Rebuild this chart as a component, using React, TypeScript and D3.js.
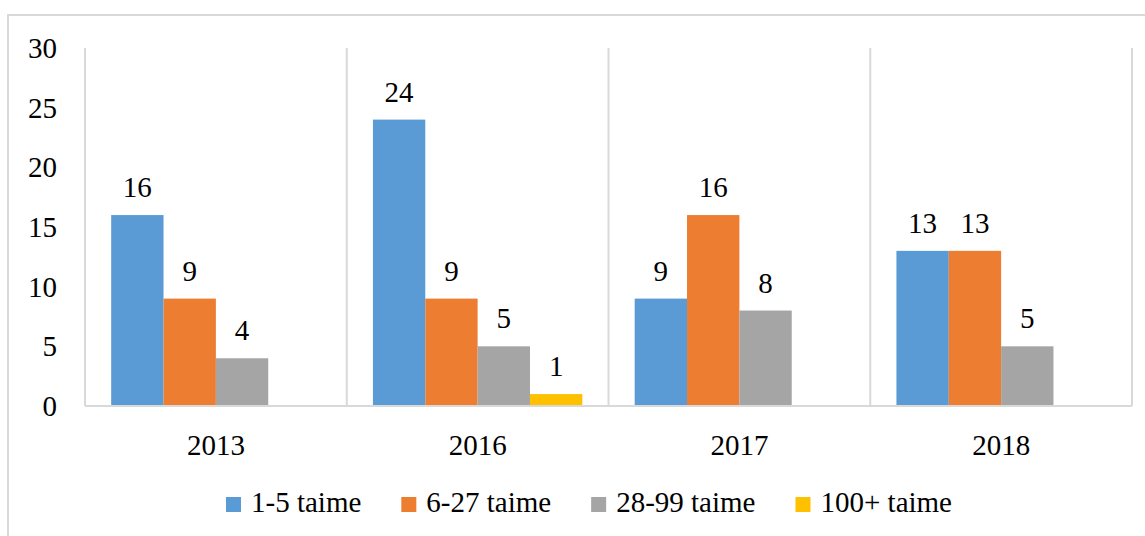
import { useEffect, useRef } from "react";
import * as d3 from "d3";

const years = ["2013", "2016", "2017", "2018"];
const seriesNames = ["1-5 taime", "6-27 taime", "28-99 taime", "100+ taime"];
const colors = ["#5B9BD5", "#ED7D31", "#A5A5A5", "#FFC000"];
// values per series, in the order of years (null = no bar)
const s1 = [16, 24, 9, 13];
const s2 = [9, 9, 16, 13];
const s3 = [4, 5, 8, 5];
const s4 = [null, 1, null, null];
const yTicks = [0, 5, 10, 15, 20, 25, 30];

const W = 1145;
const H = 536;
const FONT = '"Liberation Serif", Tinos, "Times New Roman", "DejaVu Serif", serif';
const FS = "29px";

export default function App() {
  const svgRef = useRef<SVGSVGElement>(null);

  useEffect(() => {
    const svg = d3.select(svgRef.current);
    svg.selectAll("*").remove();

    const plot = { left: 85, right: 1132, top: 48, bottom: 406 };
    const allSeries = [s1, s2, s3, s4];

    // outer frame
    svg.append("rect")
      .attr("x", 8).attr("y", 15)
      .attr("width", W).attr("height", H)
      .attr("fill", "#fff")
      .attr("stroke", "#D9D9D9").attr("stroke-width", 2);

    const x0 = d3.scaleBand().domain(years).range([plot.left, plot.right]).padding(0);
    const x1 = d3.scaleBand()
      .domain(seriesNames)
      .range([x0.bandwidth() * 0.1, x0.bandwidth() * 0.9])
      .padding(0);
    const y = d3.scaleLinear().domain([0, 30]).range([plot.bottom, plot.top]);

    // category separators
    const seps = years.map((yr) => x0(yr)!).concat([plot.right]);
    svg.append("g").selectAll("line").data(seps).join("line")
      .attr("x1", (d) => d).attr("x2", (d) => d)
      .attr("y1", plot.top).attr("y2", plot.bottom)
      .attr("stroke", "#D9D9D9").attr("stroke-width", 2);

    // bars + value labels
    const groups = svg.append("g").selectAll("g").data(years).join("g")
      .attr("transform", (d) => `translate(${x0(d)},0)`);

    groups.each(function (yr, i) {
      const g = d3.select(this);
      const rows = allSeries
        .map((s, k) => ({ name: seriesNames[k], v: s[i], c: colors[k] }))
        .filter((r) => r.v !== null) as { name: string; v: number; c: string }[];
      g.selectAll("rect").data(rows).join("rect")
        .attr("x", (d) => x1(d.name)!)
        .attr("width", x1.bandwidth())
        .attr("y", (d) => y(d.v))
        .attr("height", (d) => y(0) - y(d.v))
        .attr("fill", (d) => d.c);
      g.selectAll("text").data(rows).join("text")
        .attr("x", (d) => x1(d.name)! + x1.bandwidth() / 2)
        .attr("y", (d) => y(d.v) - 18)
        .attr("text-anchor", "middle")
        .style("font-family", FONT).style("font-size", FS)
        .attr("fill", "#000")
        .text((d) => d.v);
    });

    // baseline
    svg.append("line")
      .attr("x1", plot.left).attr("x2", plot.right)
      .attr("y1", y(0)).attr("y2", y(0))
      .attr("stroke", "#D9D9D9").attr("stroke-width", 2);

    // y tick labels
    svg.append("g").selectAll("text").data(yTicks).join("text")
      .attr("x", 57).attr("y", (d) => y(d) + 10)
      .attr("text-anchor", "end")
      .style("font-family", FONT).style("font-size", FS)
      .text((d) => d);

    // x labels
    svg.append("g").selectAll("text").data(years).join("text")
      .attr("x", (d) => x0(d)! + x0.bandwidth() / 2)
      .attr("y", 455)
      .attr("text-anchor", "middle")
      .style("font-family", FONT).style("font-size", FS)
      .text((d) => d);

    // legend
    const legend = svg.append("g");
    const items = legend.selectAll("g").data(seriesNames).join("g");
    items.append("rect")
      .attr("width", 15).attr("height", 15)
      .attr("y", 497)
      .attr("fill", (_, i) => colors[i]);
    items.append("text")
      .attr("x", 25).attr("y", 512)
      .style("font-family", FONT).style("font-size", FS)
      .text((d) => d);
    let cx = 0;
    const offs: number[] = [];
    items.each(function () {
      offs.push(cx);
      const t = d3.select(this).select("text").node() as SVGTextElement;
      cx += 25 + t.getComputedTextLength() + 40;
    });
    const total = cx - 40;
    const start = 589 - total / 2;
    items.attr("transform", (_, i) => `translate(${start + offs[i]},0)`);
  }, []);

  return (
    <svg
      ref={svgRef}
      width={W}
      height={H}
      style={{ position: "absolute", left: 0, top: 0, background: "#fff" }}
    />
  );
}
